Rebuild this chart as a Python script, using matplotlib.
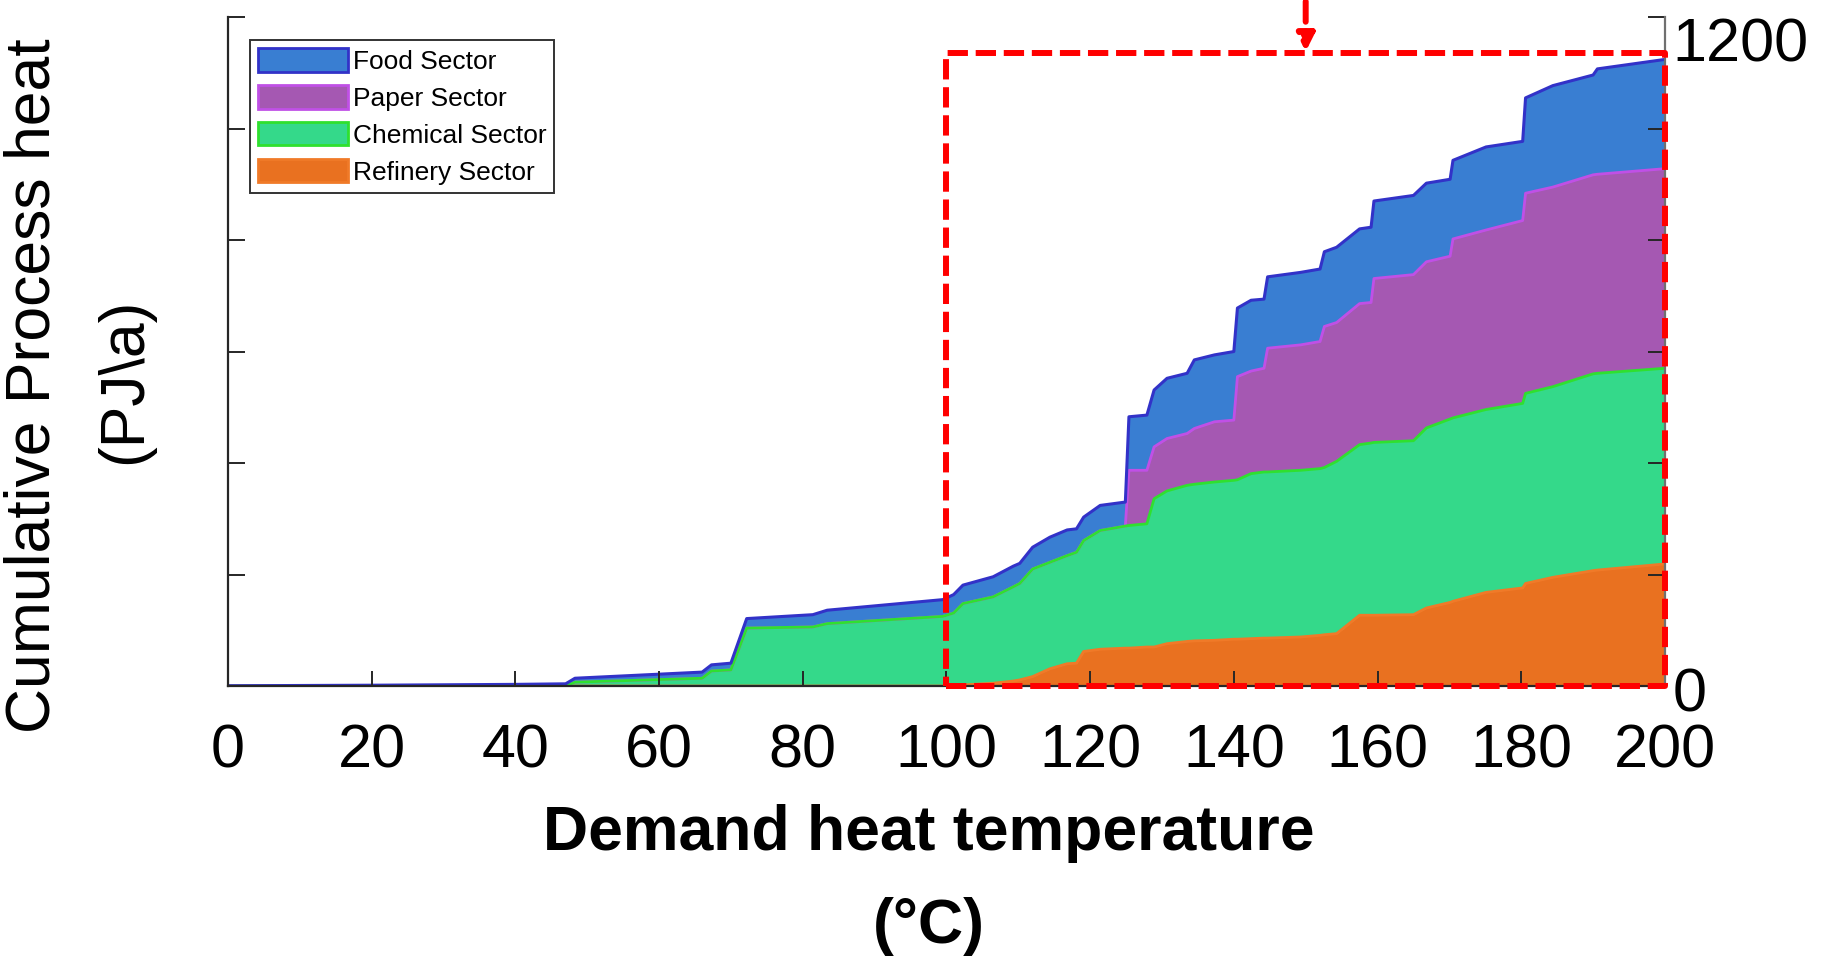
import numpy as np
import matplotlib
matplotlib.use("Agg")
import matplotlib.pyplot as plt
from matplotlib.patches import Patch

plt.rcParams['font.family'] = ['Liberation Sans', 'DejaVu Sans']

# ---- data (cumulative tops of each stacked layer, PJ/a) ----
temperature = [0, 20, 40, 47, 48.3, 66, 67.3, 70, 72.2, 81.4, 83.4, 99.5, 101, 102.3,
               106.5, 109.3, 110.2, 112, 114.4, 116.8, 118.1, 119.1, 121.4, 124.9, 125.4,
               127.9, 128.9, 130.7, 133.5, 134.5, 137.3, 140.0, 140.5, 142.4, 144.2,
               144.7, 149.3, 152.0, 152.6, 154.3, 157.5, 159.1, 159.5, 165.0, 166.8,
               170.1, 170.5, 175.1, 180.2, 180.6, 184.4, 190.0, 190.6, 200]
refinery_top = [0, 0, 0, 0, 0, 0, 0, 0, 0, 0, 0, 0, 1, 2,
                5, 9, 11, 17, 31, 40, 41, 62, 66, 68, 68,
                70, 70, 76, 80, 81, 82, 84, 84, 85, 86,
                86, 88, 91, 92, 94, 127, 127, 127, 128, 140,
                150, 152, 168, 176, 184, 195, 207, 208, 219]
chemical_top = [0, 0, 0, 0, 7, 14, 27, 29, 104, 106, 112, 125, 131, 148,
                160, 178, 184, 210, 222, 234, 240, 261, 279, 287, 288,
                291, 336, 350, 360, 362, 366, 369, 370, 381, 384,
                384, 387, 390, 392, 403, 433, 436, 437, 440, 463,
                479, 481, 496, 507, 525, 537, 560, 561, 570]
paper_top = [0, 0, 0, 0, 7, 14, 27, 29, 104, 106, 112, 125, 131, 148,
             160, 178, 184, 210, 222, 234, 240, 261, 279, 287, 387,
             387, 429, 444, 453, 462, 474, 477, 555, 565, 570,
             606, 612, 618, 645, 652, 686, 688, 731, 738, 761,
             771, 802, 818, 835, 884, 895, 917, 918, 928]
food_top = [0.5, 1.5, 3, 4, 14, 25, 38, 41, 121, 128, 136, 155, 164, 181,
            196, 215, 220, 249, 267, 280, 282, 303, 324, 330, 483,
            486, 531, 552, 561, 585, 594, 600, 678, 692, 694,
            734, 742, 748, 779, 787, 820, 823, 870, 880, 902,
            909, 943, 967, 977, 1055, 1077, 1096, 1107, 1124]

sectors = ["Food Sector", "Paper Sector", "Chemical Sector", "Refinery Sector"]
fill_colors = ["#397ED2", "#A558B2", "#34D98A", "#E97120"]
edge_colors = ["#3232C8", "#C050E6", "#2FE02F", "#F07A28"]
x_ticks = [0, 20, 40, 60, 80, 100, 120, 140, 160, 180, 200]
y_ticks = [0, 200, 400, 600, 800, 1000, 1200]

T = np.array(temperature, dtype=float)
R = np.array(refinery_top, dtype=float)
C = np.array(chemical_top, dtype=float)
P = np.array(paper_top, dtype=float)
F = np.array(food_top, dtype=float)

fig = plt.figure(figsize=(18.22, 9.63), dpi=100)
ax = fig.add_axes([0.1251, 0.2876, 0.7887, 0.6947])

# stacked areas
ax.fill_between(T, 0, R, color=fill_colors[3], lw=0, zorder=1)
ax.fill_between(T, R, C, color=fill_colors[2], lw=0, zorder=1)
ax.fill_between(T, C, P, color=fill_colors[1], lw=0, zorder=1)
ax.fill_between(T, P, F, color=fill_colors[0], lw=0, zorder=1)

# top edges (paper first so coincident edges are covered)
ax.plot(T, P, color=edge_colors[1], lw=2, zorder=1.2)
ax.plot(T, R, color=edge_colors[3], lw=2, zorder=1.3)
ax.plot(T, C, color=edge_colors[2], lw=2, zorder=1.4)
ax.plot(T, F, color=edge_colors[0], lw=2.2, zorder=1.5)

ax.set_xlim(0, 200)
ax.set_ylim(0, 1200)
ax.set_xticks(x_ticks)
ax.set_xticklabels([str(v) for v in x_ticks])
ax.set_yticks(y_ticks)
ax.tick_params(axis='x', direction='in', length=11, width=1.4, labelsize=44, pad=27,
               color='#262626')
ax.tick_params(axis='y', direction='in', length=12, width=1.4, left=True, right=True,
               labelleft=False, labelright=False, color='#262626')
ax.spines['top'].set_visible(False)
for s in ['left', 'bottom']:
    ax.spines[s].set_linewidth(1.6)
    ax.spines[s].set_color('#262626')
ax.spines['right'].set_linewidth(1.6)
ax.spines['right'].set_color('#707070')

# right-hand labels
ax.text(1.005, 1200, "1200", transform=ax.get_yaxis_transform(), ha='left', va='top',
        fontsize=44, clip_on=False)
ax.text(1.005, -18, "0", transform=ax.get_yaxis_transform(), ha='left', va='center',
        fontsize=44, clip_on=False)

# axis labels
fig.text(0.0274, 0.599, "Cumulative Process heat", rotation=90, rotation_mode='anchor',
         ha='center', va='baseline', fontsize=45)
fig.text(0.0775, 0.6045, "(PJ\\a)", rotation=90, rotation_mode='anchor',
         ha='center', va='baseline', fontsize=45)
fig.text(929 / 1822, 0.1173, "Demand heat temperature", ha='center', va='baseline',
         fontsize=45, fontweight='bold')
fig.text(929 / 1822, 0.0208, "(°C)", ha='center', va='baseline',
         fontsize=45, fontweight='bold')

# legend
handles = [Patch(facecolor=fc, edgecolor=ec, linewidth=2) for fc, ec in zip(fill_colors, edge_colors)]
leg = ax.legend(handles, sectors, loc='upper left', bbox_to_anchor=(0.0153, 0.9656),
                borderaxespad=0, fontsize=19, handlelength=3.4, handleheight=1.0,
                handletextpad=0.2, labelspacing=0.42, borderpad=0.3, fancybox=False,
                framealpha=1, edgecolor='#333333')
leg.get_frame().set_linewidth(1.4)

# red dashed highlight box and arrow
dash = (0, (3.4, 1.3))
box_x = [100, 200, 200, 100, 100]
box_y = [0, 0, 1135, 1135, 0]
ax.plot(box_x, box_y, color='red', lw=4.3, linestyle=dash, clip_on=False, zorder=5)
ax.annotate('', xy=(150, 1138), xytext=(150, 1228),
            arrowprops=dict(arrowstyle='-|>,head_length=1.0,head_width=0.5', color='red',
                            lw=4.3, linestyle=(0, (3.4, 1.6)), shrinkA=0, shrinkB=0),
            annotation_clip=False, zorder=6)

fig.savefig("out.png", dpi=100)
